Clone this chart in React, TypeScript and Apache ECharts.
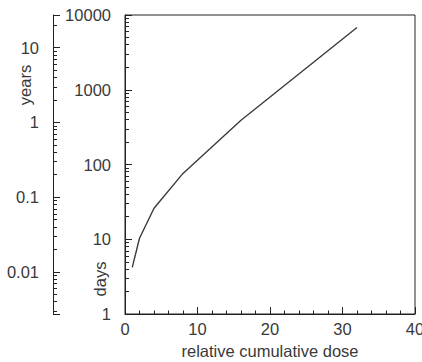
import React, { useEffect, useRef } from "react";
import * as echarts from "echarts";

const doses = [1, 2, 4, 8, 16, 32];
const days = [4.2, 10.3, 26, 76, 390, 6800];
const DAYS_PER_YEAR = 365;
const daysMin = 1;
const daysMax = 10000;

export default function App() {
  const ref = useRef<HTMLDivElement>(null);
  useEffect(() => {
    if (!ref.current) return;
    const chart = echarts.init(ref.current, undefined, { renderer: "svg" });
    const font = "Liberation Sans, Arial, sans-serif";
    const txt = "#3a3a3a";
    const axisC = "#222";
    const fs = 16.5;
    chart.setOption({
      animation: false,
      grid: {
        left: 125,
        right: 7,
        top: 15,
        bottom: 48,
        show: true,
        borderColor: axisC,
        borderWidth: 1,
        containLabel: false,
        outerBoundsMode: "none",
      },
      xAxis: {
        type: "value",
        min: 0,
        max: 40,
        interval: 10,
        axisLine: { show: true, lineStyle: { color: axisC } },
        axisTick: { show: true, inside: true, length: 7, lineStyle: { color: axisC } },
        minorTick: { show: true, splitNumber: 5, length: 3.5, lineStyle: { color: axisC } },
        splitLine: { show: false },
        axisLabel: { color: txt, fontSize: fs, fontFamily: font, margin: 6 },
        name: "relative cumulative dose",
        nameLocation: "middle",
        nameGap: 28,
        nameTextStyle: { color: txt, fontSize: fs, fontFamily: font },
      },
      yAxis: [
        {
          type: "log",
          min: daysMin,
          max: daysMax,
          position: "left",
          axisLine: { show: true, lineStyle: { color: axisC } },
          axisTick: { show: true, inside: true, length: 7, lineStyle: { color: axisC } },
          minorTick: { show: true, splitNumber: 9, length: 4, lineStyle: { color: axisC } },
          splitLine: { show: false },
          axisLabel: { color: txt, fontSize: fs, fontFamily: font, margin: 14, formatter: (v: number) => String(v) },
        },
        {
          type: "log",
          min: daysMin / DAYS_PER_YEAR,
          max: daysMax / DAYS_PER_YEAR,
          position: "left",
          offset: 72,
          axisLine: { show: true, onZero: false, lineStyle: { color: axisC } },
          axisTick: { show: true, inside: true, length: 7, lineStyle: { color: axisC } },
          minorTick: { show: true, splitNumber: 9, length: 4, lineStyle: { color: axisC } },
          splitLine: { show: false },
          axisLabel: {
            color: txt,
            fontSize: fs,
            fontFamily: font,
            margin: 14,
            showMinLabel: false,
            showMaxLabel: false,
            formatter: (v: number) => String(v),
          },
        },
      ],
      graphic: [
        {
          type: "text",
          x: 25,
          y: 85,
          rotation: Math.PI / 2,
          style: { text: "years", fill: txt, fontSize: fs, fontFamily: font, align: "center", verticalAlign: "middle" },
        },
        {
          type: "text",
          x: 100,
          y: 279,
          rotation: Math.PI / 2,
          style: { text: "days", fill: txt, fontSize: fs, fontFamily: font, align: "center", verticalAlign: "middle" },
        },
      ],
      series: [
        {
          type: "line",
          data: doses.map((d, i) => [d, days[i]]),
          symbol: "none",
          lineStyle: { color: "#3a3a3a", width: 1.4 },
        },
      ],
    });
    return () => chart.dispose();
  }, []);
  return <div ref={ref} style={{ position: "fixed", left: 0, top: 0, width: 422, height: 362, background: "#fff" }} />;
}
